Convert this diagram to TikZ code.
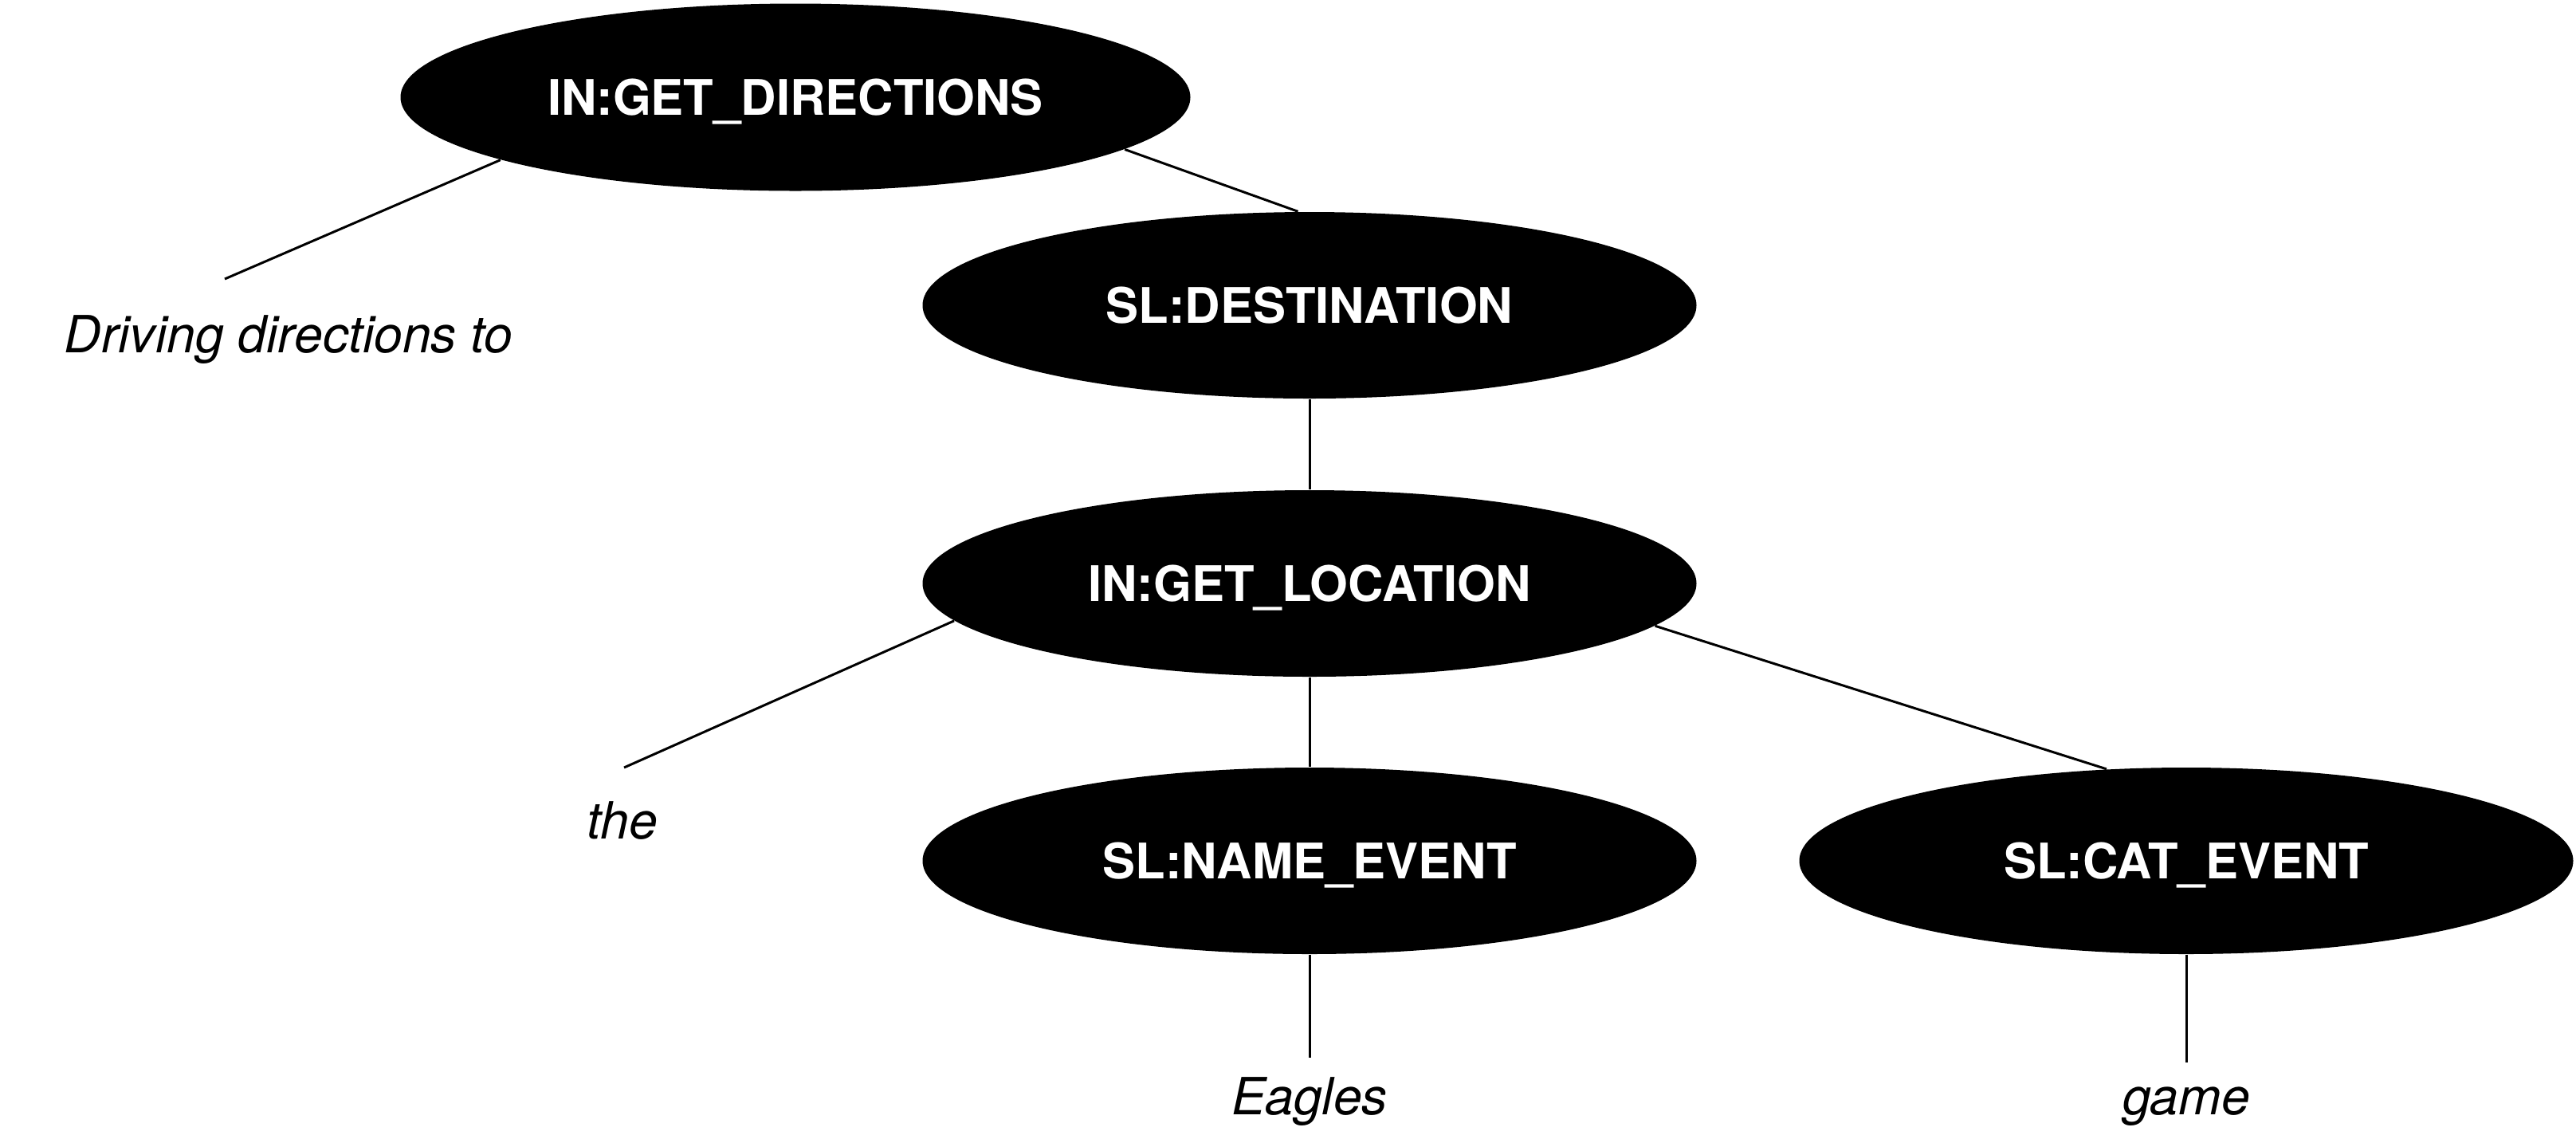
\documentclass[tikz,border=0pt]{standalone}
\usepackage{fontspec}
\setmainfont{TeX Gyre Heros}
\usetikzlibrary{shapes.geometric}
\begin{document}
\begin{tikzpicture}[
  blob/.style={ellipse, fill=black, text=white, inner sep=0pt,
    minimum width=9.71cm, minimum height=2.34cm, text depth=0pt,
    font=\fontsize{17.5}{20}\selectfont\bfseries},
  word/.style={anchor=base, inner sep=0pt,
    font=\fontsize{18.3}{22}\selectfont\itshape},
  edge/.style={line width=0.85pt, black}
]
\useasboundingbox (0,0) rectangle (32.32,-14.28);
\node[blob, minimum width=9.91cm, minimum height=2.35cm] (gd) at (9.98,-1.22) {IN:GET\_DIRECTIONS};
\node[blob] (dest) at (16.43,-3.83) {SL:DESTINATION};
\node[blob] (loc) at (16.43,-7.32) {IN:GET\_LOCATION};
\node[blob] (name) at (16.43,-10.80) {SL:NAME\_EVENT};
\node[blob] (cat) at (27.43,-10.80) {SL:CAT\_EVENT};

\node[word] (w1) at (3.62,-4.42) {Driving directions to};
\node[word] (w2) at (7.81,-10.52) {the};
\node[word] (w3) at (16.43,-13.98) {Eagles};
\node[word] (w4) at (27.43,-13.98) {game};

\coordinate (c1) at (2.82,-3.50);
\coordinate (c2) at (7.83,-9.63);
\coordinate (c3) at (16.43,-13.27);
\coordinate (c4) at (27.43,-13.33);

\draw[edge] (gd.192.4) -- (c1);
\draw[edge] (gd.351) -- (dest.97);
\draw[edge] (dest.south) -- (loc.north);
\draw[edge] (loc.186.7) -- (c2);
\draw[edge] (loc.south) -- (name.north);
\draw[edge] (loc.353) -- (cat.131);
\draw[edge] (name.south) -- (c3);
\draw[edge] (cat.south) -- (c4);
\end{tikzpicture}
\end{document}
